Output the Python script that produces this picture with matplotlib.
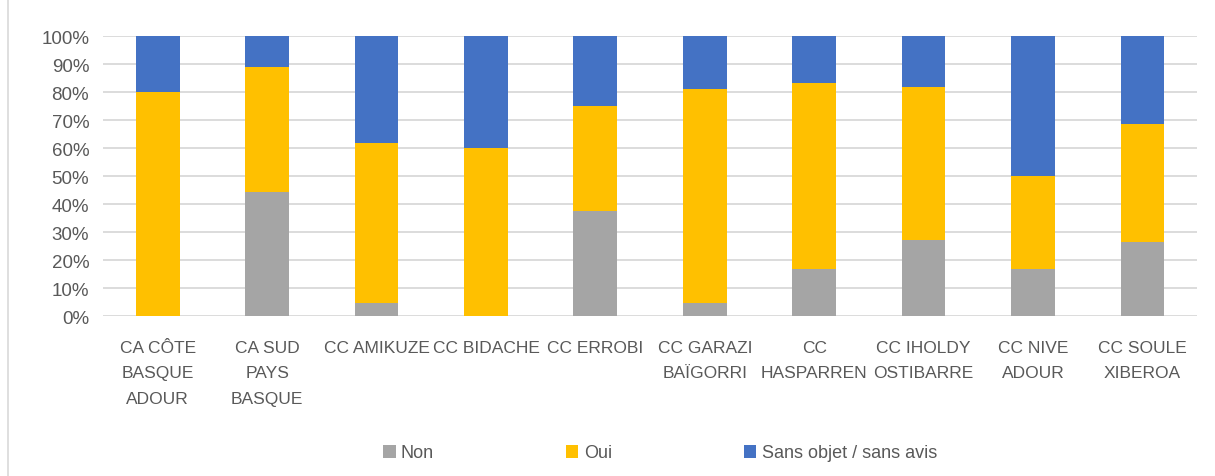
import numpy as np
import matplotlib
matplotlib.use("Agg")
import matplotlib.pyplot as plt
from matplotlib.ticker import PercentFormatter
from matplotlib.lines import Line2D

plt.rcParams['font.family'] = ['Liberation Sans', 'DejaVu Sans']

categories = ["CA CÔTE\nBASQUE\nADOUR", "CA SUD\nPAYS\nBASQUE", "CC AMIKUZE", "CC BIDACHE",
              "CC ERROBI", "CC GARAZI\nBAÏGORRI", "CC\nHASPARREN", "CC IHOLDY\nOSTIBARRE",
              "CC NIVE\nADOUR", "CC SOULE\nXIBEROA"]
non = [0.0, 44.4, 4.8, 0.0, 37.5, 4.8, 16.7, 27.3, 16.7, 26.3]
oui = [80.0, 44.5, 57.1, 60.0, 37.5, 76.2, 66.6, 54.5, 33.3, 42.1]
sans_avis = [20.0, 11.1, 38.1, 40.0, 25.0, 19.0, 16.7, 18.2, 50.0, 31.6]
series_names = ["Non", "Oui", "Sans objet / sans avis"]
colors = ["#A5A5A5", "#FFC000", "#4472C4"]
text_color = "#595959"

fig = plt.figure(figsize=(12.15, 4.77), dpi=100)
ax = fig.add_axes([0.0848, 0.3354, 0.9005, 0.587])

x = np.arange(len(categories))
bottom = np.zeros(len(categories))
for vals, name, c in zip([non, oui, sans_avis], series_names, colors):
    ax.bar(x, vals, width=0.40, bottom=bottom, color=c, label=name, zorder=3)
    bottom += np.array(vals)

ax.set_xlim(-0.5, len(categories) - 0.5)
ax.set_ylim(0, 100)
ax.set_yticks(np.arange(0, 101, 10))
ax.yaxis.set_major_formatter(PercentFormatter(decimals=0))
ax.grid(axis='y', color='#D9D9D9', linewidth=1.3, zorder=0)
for s in ax.spines.values():
    s.set_visible(False)
ax.tick_params(axis='both', length=0, colors=text_color)
ax.tick_params(axis='y', pad=10, labelsize=13.5)
ax.tick_params(axis='x', pad=17, labelsize=12.5)
ax.set_xticks(x)
ax.set_xticklabels(categories, linespacing=1.9, va='top')

handles, labels = ax.get_legend_handles_labels()
leg = fig.legend(handles, labels, loc='center', bbox_to_anchor=(660 / 1215, 1 - 454 / 477),
                 ncol=3, frameon=False, fontsize=13, handlelength=0.7, handleheight=0.7,
                 handletextpad=0.3, columnspacing=7.3, labelcolor=text_color)

# chart frame on the left
fig.add_artist(Line2D([8 / 1215, 8 / 1215], [0, 1], color='#D9D9D9', linewidth=1.2))

fig.savefig("out.png", dpi=100)
